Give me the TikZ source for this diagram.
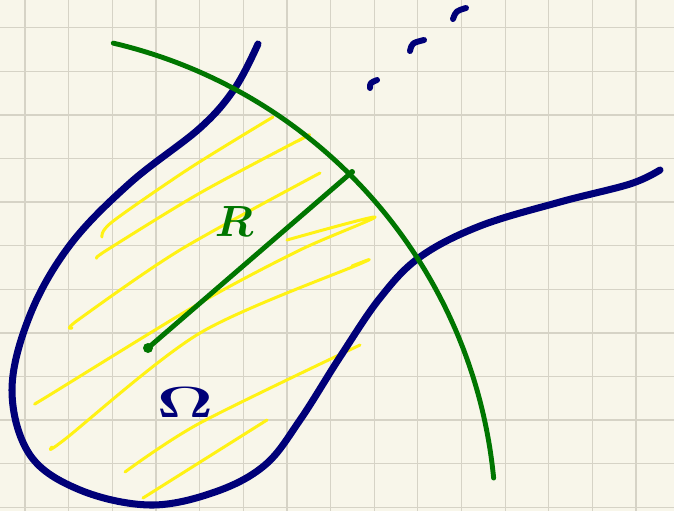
\documentclass[tikz,border=0pt]{standalone}
\definecolor{paper}{RGB}{248,246,234}
\definecolor{gridgray}{RGB}{214,211,198}
\definecolor{inkblue}{RGB}{0,0,120}
\definecolor{inkgreen}{RGB}{0,118,0}
\definecolor{hilite}{RGB}{255,242,20}
\begin{document}
\begin{tikzpicture}[x=0.02cm,y=-0.02cm,line cap=round,line join=round,
  gridline/.style={gridgray, line width=0.7pt},
  boundary/.style={inkblue, line width=4pt},
  arc/.style={inkgreen, line width=2.8pt},
  hatch/.style={hilite, line width=1.7pt},
  dotmark/.style={inkblue, line width=3.4pt}]
\fill[paper] (0,0) rectangle (674,511);
\useasboundingbox (0,0) rectangle (674,511);
\foreach \k in {0,...,14}
  \draw[gridline] ({25+43.65*\k},0) -- ({25+43.65*\k},511);
\foreach \k in {0,...,11}
  \draw[gridline] (0,{27.7+43.6*\k}) -- (674,{27.7+43.6*\k});
% hatching
\draw[hatch] plot[smooth] coordinates {(102,237) (112,222) (190,168) (273,117)};
\draw[hatch] plot[smooth] coordinates {(97,258) (107,250) (200,193) (305,137) (298,141)};
\draw[hatch] plot[smooth] coordinates {(72,328) (78,320) (180,250) (320,173)};
\draw[hatch] plot[smooth] coordinates {(38,402) (48,396) (200,303) (300,250) (375,217) (287,240)};
\draw[hatch] plot[smooth] coordinates {(52,447) (64,440) (200,333) (362,263) (352,266)};
\draw[hatch] plot[smooth] coordinates {(125,472) (200,423) (360,345)};
\draw[hatch] (143,498) -- (267,420);
\draw[hatch] (237,483) -- (273,458);
% region and circle
\draw[boundary] plot[smooth,tension=0.6] coordinates {(258,44) (235,88) (200,128)
  (130,183) (70,245) (30,315) (12,390) (30,455) (80,490) (150,505) (215,492)
  (265,465) (300,420) (340,357) (380,298) (420,257) (480,226) (560,202)
  (630,184) (660,170)};
\coordinate (mid) at (0,526);
\draw[arc] (mid) ++(-76.8:496) arc[start angle=-76.8, end angle=-5.55, radius=496];
\coordinate (ctr) at (148,348);
\coordinate (rim) at (352,172);
\draw[arc] (ctr) -- (rim);
\fill[inkgreen] (ctr) circle (5);
\fill[inkgreen] (rim) circle (3);
\node[inkgreen, font=\fontsize{36}{36}\selectfont\boldmath] (Rlabel) at (234,222) {$R$};
\node[inkblue, font=\fontsize{40}{40}\selectfont\boldmath] (Omlabel) at (185,402) {\scalebox{1.6}[1]{$\Omega$}};
% dots
\draw[dotmark] (370,88) .. controls (370,83) .. (377,80);
\draw[dotmark] (410,51) .. controls (412,43) .. (424,40);
\draw[dotmark] (453,19) .. controls (456,11) .. (466,8);
\end{tikzpicture}
\end{document}
